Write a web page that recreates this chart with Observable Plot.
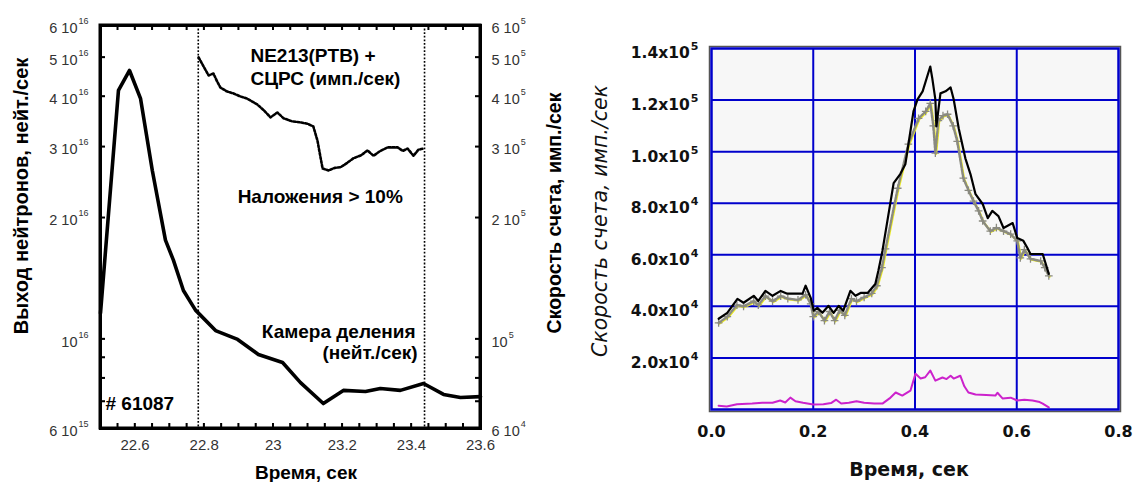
<!DOCTYPE html>
<html>
<head>
<meta charset="utf-8">
<script src="https://cdn.jsdelivr.net/npm/d3@7"></script>
<script src="https://cdn.jsdelivr.net/npm/@observablehq/plot@0.6"></script>
<style>
  html, body { margin: 0; padding: 0; background: #fff; }
  #wrap { position: relative; width: 1137px; height: 482px; overflow: hidden; background: #fff; }
  .panel { position: absolute; top: 0; }
  .panel svg { display: block; }
  .lbl { position: absolute; white-space: nowrap; line-height: 1; transform-origin: center center; }
</style>
</head>
<body>
<div id="wrap"></div>
<script>
// ---------------- LEFT PANEL DATA ----------------
// Fission chamber (neutron yield, n/s), left log axis
const fissionTime  = [22.5, 22.552, 22.584, 22.616, 22.65, 22.688, 22.711, 22.74, 22.775, 22.833, 22.897, 22.957, 23.027, 23.079, 23.145, 23.203, 23.267, 23.31, 23.368, 23.435, 23.493, 23.542, 23.6];
const fissionYield = [1.16e16, 4.14e16, 4.64e16, 3.95e16, 2.62e16, 1.76e16, 1.57e16, 1.32e16, 1.18e16, 1.05e16, 9.98e15, 9.16e15, 8.75e15, 7.8e15, 6.92e15, 7.46e15, 7.41e15, 7.54e15, 7.46e15, 7.76e15, 7.29e15, 7.16e15, 7.2e15];
// NE213(PTB) + СЦРС count rate (counts/s), right log axis
const ne213Time = [22.784, 22.8, 22.813, 22.827, 22.838, 22.847, 22.865, 22.885, 22.905, 22.925, 22.954, 22.975, 22.992, 23.012, 23.03, 23.055, 23.079, 23.1, 23.116, 23.128, 23.137, 23.143, 23.16, 23.178, 23.195, 23.215, 23.232, 23.255, 23.273, 23.29, 23.31, 23.331, 23.36, 23.375, 23.389, 23.406, 23.42, 23.435];
const ne213Rate = [5.0e5, 4.72e5, 4.51e5, 4.56e5, 4.35e5, 4.21e5, 4.12e5, 4.07e5, 4.0e5, 3.95e5, 3.82e5, 3.68e5, 3.55e5, 3.65e5, 3.53e5, 3.47e5, 3.45e5, 3.42e5, 3.37e5, 3.11e5, 2.82e5, 2.65e5, 2.62e5, 2.66e5, 2.67e5, 2.74e5, 2.81e5, 2.86e5, 2.94e5, 2.85e5, 2.93e5, 2.99e5, 2.99e5, 2.93e5, 2.97e5, 2.85e5, 2.95e5, 2.97e5];
const markerTimes = [22.783, 23.438];
const leftXDomain = [22.5, 23.6];
const leftYDomain = [6e15, 6e16];
const leftXTicks = [22.6, 22.8, 23.0, 23.2, 23.4, 23.6];
const leftXTickLabels = ["22.6", "22.8", "23", "23.2", "23.4", "23.6"];
const leftYTicks = [6e15, 1e16, 2e16, 3e16, 4e16, 5e16, 6e16];
const leftYTickLabels = ["6 10^15", "10^16", "2 10^16", "3 10^16", "4 10^16", "5 10^16", "6 10^16"];
const rightAxisTickLabels = ["6 10^4", "10^5", "2 10^5", "3 10^5", "4 10^5", "5 10^5", "6 10^5"];
const leftYMinor = [7e15, 8e15, 9e15, 1e16, 2e16, 3e16, 4e16, 5e16];
const rightScaleFactor = 1e11; // 6·10^4 counts/s ↔ 6·10^15 n/s
const leftNotes = [
  {t: 22.934, v: 4.88e16, text: "NE213(PTB) +", anchor: "start"},
  {t: 22.934, v: 4.26e16, text: "СЦРС (имп./сек)", anchor: "start"},
  {t: 22.897, v: 2.18e16, text: "Наложения > 10%", anchor: "start"},
  {t: 23.412, v: 1.009e16, text: "Камера деления", anchor: "end"},
  {t: 23.418, v: 8.95e15, text: "(нейт./сек)", anchor: "end"},
  {t: 22.5145, v: 6.65e15, text: "# 61087", anchor: "start"}
];

// ---------------- RIGHT PANEL DATA ----------------
const tBlack = [0.014, 0.031, 0.051, 0.063, 0.083, 0.092, 0.106, 0.12, 0.136, 0.149, 0.179, 0.185, 0.195, 0.201, 0.208, 0.218, 0.23, 0.24, 0.25, 0.259, 0.273, 0.283, 0.293, 0.307, 0.322, 0.328, 0.336, 0.358, 0.371, 0.381, 0.397, 0.405, 0.415, 0.43, 0.434, 0.44, 0.442, 0.45, 0.46, 0.47, 0.476, 0.486, 0.499, 0.509, 0.519, 0.533, 0.543, 0.552, 0.564, 0.574, 0.592, 0.601, 0.613, 0.621, 0.627, 0.651, 0.663];
const rateBlack = [35.2e3, 37.5e3, 42.9e3, 41.4e3, 44.1e3, 42.1e3, 46.0e3, 44.1e3, 46.0e3, 44.9e3, 44.9e3, 48.0e3, 43.3e3, 38.3e3, 39.4e3, 37.5e3, 40.2e3, 37.5e3, 40.2e3, 38.3e3, 46.0e3, 44.1e3, 45.2e3, 45.2e3, 48.7e3, 53.8e3, 61.5e3, 87.8e3, 91.3e3, 95.1e3, 115.6e3, 120.3e3, 123.4e3, 133.0e3, 128.4e3, 120.3e3, 109.8e3, 122.6e3, 123.4e3, 124.9e3, 120.3e3, 109.0e3, 97.4e3, 91.3e3, 83.5e3, 79.7e3, 74.2e3, 77.0e3, 75.0e3, 70.4e3, 72.3e3, 66.5e3, 65.4e3, 62.6e3, 60.3e3, 60.3e3, 52.6e3];
const tGray = [0.014, 0.031, 0.05, 0.063, 0.083, 0.092, 0.106, 0.12, 0.136, 0.15, 0.17, 0.185, 0.195, 0.2, 0.21, 0.222, 0.232, 0.242, 0.252, 0.262, 0.275, 0.285, 0.3, 0.315, 0.325, 0.335, 0.342, 0.366, 0.387, 0.407, 0.421, 0.43, 0.436, 0.44, 0.446, 0.455, 0.464, 0.475, 0.483, 0.495, 0.505, 0.515, 0.525, 0.533, 0.548, 0.56, 0.574, 0.588, 0.601, 0.607, 0.615, 0.627, 0.647, 0.655, 0.663];
const rateGray = [33.6e3, 36.0e3, 40.5e3, 40.0e3, 42.0e3, 40.5e3, 44.0e3, 42.0e3, 44.0e3, 43.0e3, 42.5e3, 44.5e3, 41.0e3, 36.0e3, 38.0e3, 34.5e3, 38.0e3, 34.5e3, 38.5e3, 36.5e3, 43.0e3, 42.0e3, 43.5e3, 45.0e3, 48.0e3, 55.0e3, 62.3e3, 85.8e3, 102.9e3, 112.9e3, 115.6e3, 118.7e3, 110.0e3, 99.4e3, 112.0e3, 114.0e3, 114.5e3, 110.0e3, 104.0e3, 89.7e3, 85.0e3, 80.8e3, 77.0e3, 73.1e3, 69.2e3, 70.5e3, 69.2e3, 68.0e3, 65.4e3, 58.8e3, 62.0e3, 58.4e3, 57.6e3, 55.0e3, 51.8e3];
const tMagenta = [0.014, 0.03, 0.05, 0.08, 0.1, 0.12, 0.135, 0.145, 0.155, 0.165, 0.18, 0.2, 0.22, 0.235, 0.245, 0.255, 0.27, 0.285, 0.3, 0.32, 0.336, 0.35, 0.362, 0.375, 0.391, 0.401, 0.411, 0.42, 0.43, 0.44, 0.454, 0.462, 0.47, 0.476, 0.489, 0.497, 0.505, 0.519, 0.54, 0.558, 0.562, 0.572, 0.588, 0.601, 0.615, 0.631, 0.645, 0.651, 0.663];
const rateMagenta = [1.5e3, 1.2e3, 2.0e3, 2.3e3, 2.6e3, 2.6e3, 3.5e3, 2.7e3, 4.6e3, 3.2e3, 2.6e3, 1.9e3, 2.0e3, 2.5e3, 3.8e3, 2.3e3, 2.6e3, 3.2e3, 2.6e3, 2.3e3, 2.3e3, 4.3e3, 6.6e3, 5.4e3, 7.3e3, 13.9e3, 12.0e3, 12.5e3, 15.1e3, 11.2e3, 12.4e3, 11.8e3, 13.1e3, 12.0e3, 13.1e3, 9.0e3, 6.6e3, 5.8e3, 5.6e3, 5.4e3, 6.5e3, 4.3e3, 4.6e3, 3.5e3, 3.8e3, 3.5e3, 2.9e3, 2.3e3, 0.8e3];
const rXTicks = [0, 0.2, 0.4, 0.6, 0.8];
const rXTickLabels = ["0.0", "0.2", "0.4", "0.6", "0.8"];
const rYTicks = [2e4, 4e4, 6e4, 8e4, 1e5, 1.2e5, 1.4e5];
const rYTickLabels = ["2.0x10^4", "4.0x10^4", "6.0x10^4", "8.0x10^4", "1.0x10^5", "1.2x10^5", "1.4x10^5"];

// ---------------- helpers ----------------
const zip = (xs, ys) => xs.map((x, i) => ({x, y: ys[i]}));
function supify(svg, size, dy) {
  svg.querySelectorAll("text").forEach(t => {
    const s = t.textContent;
    if (!s.includes("^")) return;
    const [base, sup] = s.split("^");
    t.textContent = base;
    const ts = document.createElementNS("http://www.w3.org/2000/svg", "tspan");
    ts.textContent = sup;
    ts.setAttribute("font-size", size);
    ts.setAttribute("dy", dy);
    ts.setAttribute("dx", 1);
    t.appendChild(ts);
  });
}
const wrap = document.getElementById("wrap");
function mount(svg, left) {
  const d = document.createElement("div");
  d.className = "panel";
  d.style.left = left + "px";
  d.appendChild(svg);
  wrap.appendChild(d);
}
function label(text, cx, cy, rot, css) {
  const d = document.createElement("div");
  d.className = "lbl";
  d.textContent = text;
  Object.assign(d.style, css);
  d.style.left = cx + "px";
  d.style.top = cy + "px";
  d.style.transform = `translate(-50%,-50%) rotate(${rot}deg)`;
  wrap.appendChild(d);
}

// ---------------- LEFT PANEL ----------------
const L = {w: 570, h: 482, ml: 100, mr: 90, mt: 25, mb: 54};
const Liw = L.w - L.ml - L.mr, Lih = L.h - L.mt - L.mb;
const tickPx = 5;
const tickDx = tickPx * (leftXDomain[1] - leftXDomain[0]) / Liw;
const tickFy = Math.pow(leftYDomain[1] / leftYDomain[0], tickPx / Lih);
const xMinorL = d3.range(22.55, 23.6, 0.05);
const leftFont = "'Liberation Sans', Arial, sans-serif";
const noteStyle = {x: "t", y: "v", text: "text", lineAnchor: "bottom", fontSize: 19, fontWeight: "bold", fill: "#000", fontFamily: leftFont};

const leftPlot = Plot.plot({
  width: L.w, height: L.h,
  marginLeft: L.ml, marginRight: L.mr, marginTop: L.mt, marginBottom: L.mb,
  style: {background: "transparent", fontFamily: leftFont},
  x: {domain: leftXDomain},
  y: {type: "log", domain: leftYDomain},
  marks: [
    Plot.ruleX(markerTimes, {x: d => d, stroke: "#000", strokeWidth: 1.6, strokeDasharray: "1.8,1.8"}),
    Plot.line(zip(fissionTime, fissionYield), {x: "x", y: "y", stroke: "#000", strokeWidth: 3.6, strokeLinejoin: "round"}),
    Plot.line(zip(ne213Time, ne213Rate), {x: "x", y: d => d.y * rightScaleFactor, stroke: "#000", strokeWidth: 2.6, strokeDasharray: "2.2,1.8"}),
    Plot.ruleY(leftYMinor, {y: d => d, x1: leftXDomain[0], x2: leftXDomain[0] + tickDx, stroke: "#000", strokeWidth: 1.5}),
    Plot.ruleY(leftYMinor, {y: d => d, x1: leftXDomain[1] - tickDx, x2: leftXDomain[1], stroke: "#000", strokeWidth: 1.5}),
    Plot.ruleX(xMinorL, {x: d => d, y1: leftYDomain[0], y2: leftYDomain[0] * tickFy, stroke: "#000", strokeWidth: 1.5}),
    Plot.ruleX(xMinorL, {x: d => d, y1: leftYDomain[1] / tickFy, y2: leftYDomain[1], stroke: "#000", strokeWidth: 1.5}),
    Plot.frame({stroke: "#000", strokeWidth: 3}),
    Plot.axisY(leftYTicks, {anchor: "left", tickSize: 0, tickPadding: 12, label: null, fontSize: 14.5, fill: "#333", dy: 3,
      tickFormat: d => leftYTickLabels[leftYTicks.indexOf(d)]}),
    Plot.axisY(leftYTicks, {anchor: "right", tickSize: 0, tickPadding: 11, label: null, fontSize: 14.5, fill: "#333", dy: 3,
      tickFormat: d => rightAxisTickLabels[leftYTicks.indexOf(d)]}),
    Plot.axisX(leftXTicks, {anchor: "bottom", tickSize: 0, tickPadding: 11, label: null, fontSize: 15, fill: "#333",
      tickFormat: d => leftXTickLabels[leftXTicks.indexOf(d)]}),
    Plot.text(leftNotes.filter(d => d.anchor === "start"), {...noteStyle, textAnchor: "start"}),
    Plot.text(leftNotes.filter(d => d.anchor === "end"), {...noteStyle, textAnchor: "end"})
  ]
});
mount(leftPlot, 0);
supify(leftPlot, 9, -9);

// Overlay frame and inward ticks, positioned through the plot's own scales
(function () {
  const sx = leftPlot.scale("x"), sy = leftPlot.scale("y");
  const X0 = sx.apply(leftXDomain[0]), X1 = sx.apply(leftXDomain[1]);
  const Y0 = sy.apply(leftYDomain[0]), Y1 = sy.apply(leftYDomain[1]);
  const ov = d3.create("svg")
    .attr("width", L.w).attr("height", L.h)
    .style("position", "absolute").style("left", "0px").style("top", "0px")
    .style("z-index", 3).style("pointer-events", "none");
  const g = ov.append("g").attr("stroke", "#000").attr("fill", "none");
  leftYMinor.forEach(v => {
    const y = sy.apply(v);
    g.append("line").attr("x1", X0).attr("x2", X0 + tickPx).attr("y1", y).attr("y2", y).attr("stroke-width", 1.5);
    g.append("line").attr("x1", X1 - tickPx).attr("x2", X1).attr("y1", y).attr("y2", y).attr("stroke-width", 1.5);
  });
  xMinorL.forEach(v => {
    const x = sx.apply(v);
    g.append("line").attr("x1", x).attr("x2", x).attr("y1", Y0).attr("y2", Y0 - tickPx).attr("stroke-width", 1.5);
    g.append("line").attr("x1", x).attr("x2", x).attr("y1", Y1).attr("y2", Y1 + tickPx).attr("stroke-width", 1.5);
  });
  g.append("rect")
    .attr("x", Math.min(X0, X1)).attr("y", Math.min(Y0, Y1))
    .attr("width", Math.abs(X1 - X0)).attr("height", Math.abs(Y1 - Y0))
    .attr("stroke-width", 3);
  wrap.appendChild(ov.node());
})();

// ---------------- RIGHT PANEL ----------------
const R = {w: 567, h: 482, ml: 141, mr: 19, mt: 48, mb: 73};
const rightFont = "'DejaVu Sans', Verdana, sans-serif";
const rightPlot = Plot.plot({
  width: R.w, height: R.h,
  marginLeft: R.ml, marginRight: R.mr, marginTop: R.mt, marginBottom: R.mb,
  style: {background: "transparent", overflow: "visible", fontFamily: rightFont},
  x: {domain: [0, 0.8]},
  y: {domain: [0, 1.4e5]},
  marks: [
    Plot.frame({fill: "#f7f7f7", stroke: null}),
    Plot.ruleX(rXTicks.slice(1, -1), {x: d => d, stroke: "#0000cc", strokeWidth: 2}),
    Plot.ruleY(rYTicks.slice(0, -1), {y: d => d, stroke: "#0000cc", strokeWidth: 2}),
    Plot.line(zip(tMagenta, rateMagenta), {x: "x", y: "y", stroke: "#cc22cc", strokeWidth: 2}),
    Plot.line(zip(tGray, rateGray), {x: "x", y: "y", stroke: "#ecec20", strokeWidth: 2.2, dx: 0.8, dy: 0.8}),
    Plot.line(zip(tGray, rateGray), {x: "x", y: "y", stroke: "#8a8a80", strokeWidth: 2.4, strokeDasharray: "2.2,1.2"}),
    Plot.dot(zip(tGray, rateGray), {x: "x", y: "y", symbol: "plus", r: 2.6, stroke: "#8a8a80", strokeWidth: 1.3}),
    Plot.line(zip(tBlack, rateBlack), {x: "x", y: "y", stroke: "#000", strokeWidth: 2.2}),
    Plot.frame({stroke: "#555", strokeWidth: 1.5, inset: -2}),
    Plot.frame({stroke: "#0000cc", strokeWidth: 2.5}),
    Plot.axisY(rYTicks, {anchor: "left", tickSize: 0, tickPadding: 13, label: null, fontSize: 15.5, fontWeight: "bold", fill: "#111", dy: 5,
      tickFormat: d => rYTickLabels[rYTicks.indexOf(d)]}),
    Plot.axisX(rXTicks, {anchor: "bottom", tickSize: 0, tickPadding: 16, label: null, fontSize: 16, fontWeight: "bold", fill: "#111",
      tickFormat: d => rXTickLabels[rXTicks.indexOf(d)]})
  ]
});
mount(rightPlot, 570);
supify(rightPlot, 11, -8);

// ---------------- TITLES ----------------
const boldL = {fontFamily: leftFont, fontWeight: "bold", color: "#000"};
label("Выход нейтронов, нейт./сек", 21, 196, -90, {...boldL, fontSize: "20px"});
label("Скорость счета, имп./сек", 555, 213, -90, {...boldL, fontSize: "19.5px"});
label("Время, сек", 306, 472, 0, {...boldL, fontSize: "19px"});
label("Скорость счета, имп./сек", 600, 221, -90, {fontFamily: rightFont, fontStyle: "italic", fontSize: "20.5px", color: "#111"});
label("Время, сек", 909, 469, 0, {fontFamily: rightFont, fontWeight: "bold", fontSize: "19px", color: "#111"});
</script>
</body>
</html>
